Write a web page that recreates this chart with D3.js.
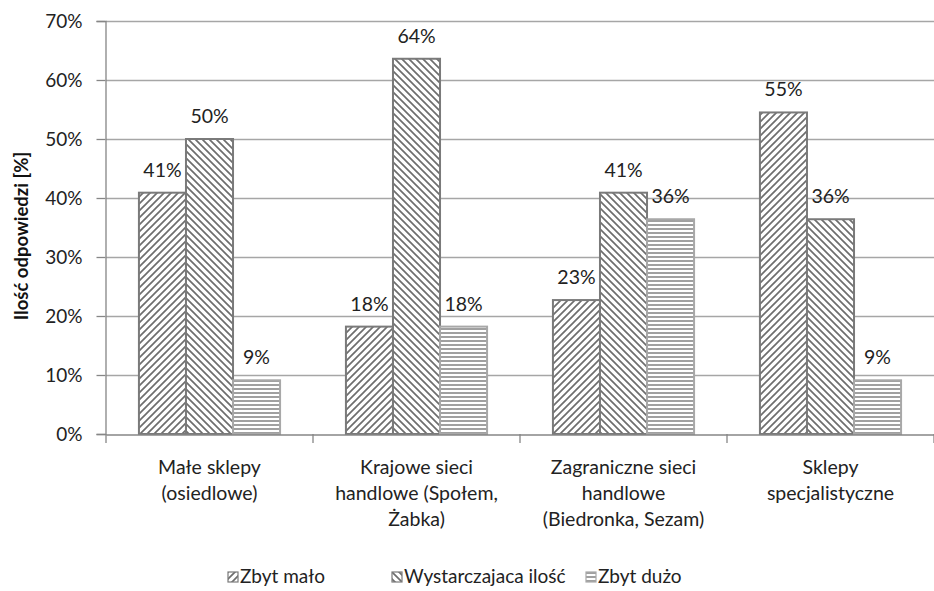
<!DOCTYPE html>
<html><head><meta charset="utf-8">
<script src="https://cdn.jsdelivr.net/npm/d3@7"></script>
<style>body{margin:0;background:#fff}svg{display:block}</style>
</head><body>
<script>
const categories = [
  ["Małe sklepy", "(osiedlowe)"],
  ["Krajowe sieci", "handlowe (Społem,", "Żabka)"],
  ["Zagraniczne sieci", "handlowe", "(Biedronka, Sezam)"],
  ["Sklepy", "specjalistyczne"]
];
const seriesNames = ["Zbyt mało", "Wystarczajaca ilość", "Zbyt dużo"];
const zbytMalo = [40.9, 18.2, 22.7, 54.5];
const wystarczajaca = [50.0, 63.6, 40.9, 36.4];
const zbytDuzo = [9.1, 18.2, 36.4, 9.1];
const yTicks = [0, 10, 20, 30, 40, 50, 60, 70];
const yTitle = "Ilość odpowiedzi [%]";

const series = [zbytMalo, wystarczajaca, zbytDuzo];
const W = 934, H = 591;
const font = "Lato, 'Open Sans', sans-serif";
const svg = d3.select("body").append("svg").attr("width", W).attr("height", H);

const defs = svg.append("defs");
function pat(id, size, draw) {
  const p = defs.append("pattern").attr("id", id).attr("patternUnits", "userSpaceOnUse")
    .attr("width", size).attr("height", size);
  p.append("rect").attr("width", size).attr("height", size).attr("fill", "#fff");
  draw(p);
}
pat("p0", 7, p => {
  p.append("path").attr("d", "M-1,1 l2,-2 M0,7 l7,-7 M6,8 l2,-2").attr("stroke", "#6e6e6e").attr("stroke-width", 1.7);
});
pat("p1", 7, p => {
  p.append("path").attr("d", "M-1,6 l2,2 M0,0 l7,7 M6,-1 l2,2").attr("stroke", "#6e6e6e").attr("stroke-width", 1.7);
});
pat("p2", 4, p => {
  p.append("rect").attr("x", 0).attr("y", 0).attr("width", 4).attr("height", 2).attr("fill", "#a0a0a0");
});

const x0 = 106, x1 = 934, yTop = 21, yBot = 434;
const x = d3.scaleBand().domain(d3.range(categories.length)).range([x0, x1]).paddingInner(0).paddingOuter(0);
const xs = d3.scaleBand().domain(d3.range(series.length)).range([0, x.bandwidth()]).paddingInner(0).paddingOuter(0.7);
const y = d3.scaleLinear().domain([0, 70]).range([yBot, yTop]);

// gridlines
svg.append("g").selectAll("line").data(yTicks.filter(t => t > 0)).join("line")
  .attr("x1", x0).attr("x2", x1).attr("y1", d => y(d) + 0.5).attr("y2", d => y(d) + 0.5)
  .attr("stroke", "#a6a6a6").attr("stroke-width", 1.3);

// y axis
const yAxis = svg.append("g").attr("transform", `translate(${x0 - 0.5},0)`)
  .call(d3.axisLeft(y).tickValues(yTicks).tickFormat(d => d + "%").tickSize(9).tickPadding(14));
yAxis.select(".domain").attr("stroke", "#868686").attr("stroke-width", 1.3);
yAxis.selectAll(".tick line").attr("stroke", "#868686").attr("stroke-width", 1.3);
yAxis.selectAll(".tick text").attr("font-family", font).attr("font-size", 19).attr("fill", "#222");

// bars
const stroke = ["#7a7a7a", "#7a7a7a", "#a8a8a8"];
series.forEach((vals, si) => {
  const g = svg.append("g");
  g.selectAll("rect").data(vals).join("rect")
    .attr("x", (d, i) => x(i) + xs(si))
    .attr("y", d => y(d))
    .attr("width", xs.bandwidth())
    .attr("height", d => y(0) - y(d))
    .attr("fill", `url(#p${si})`)
    .attr("stroke", stroke[si]).attr("stroke-width", 2);
  g.selectAll("text").data(vals).join("text")
    .attr("x", (d, i) => x(i) + xs(si) + xs.bandwidth() / 2)
    .attr("y", d => y(d) - 16)
    .attr("text-anchor", "middle")
    .attr("font-family", font).attr("font-size", 19.5).attr("fill", "#222")
    .text(d => Math.round(d) + "%");
});

// x axis
const xAxis = svg.append("g").attr("transform", `translate(0,${yBot + 0.5})`)
  .call(d3.axisBottom(x).tickSize(0).tickFormat(""));
xAxis.select(".domain").attr("stroke", "#868686").attr("stroke-width", 1.3);
svg.append("g").selectAll("line").data(d3.range(categories.length + 1)).join("line")
  .attr("x1", i => (i < categories.length ? x(i) : x1)).attr("x2", i => (i < categories.length ? x(i) : x1))
  .attr("y1", yBot).attr("y2", yBot + 9).attr("stroke", "#868686").attr("stroke-width", 1.3);

const catText = svg.append("g").selectAll("text").data(categories).join("text")
  .attr("text-anchor", "middle").attr("font-family", font).attr("font-size", 19.5).attr("fill", "#222");
catText.each(function(lines, i) {
  d3.select(this).selectAll("tspan").data(lines).join("tspan")
    .attr("x", x(i) + x.bandwidth() / 2)
    .attr("y", (d, j) => 474 + j * 26)
    .text(d => d);
});

// y title
svg.append("text").attr("transform", "translate(28,236) rotate(-90)")
  .attr("text-anchor", "middle").attr("font-family", font).attr("font-size", 18.5)
  .attr("font-weight", "bold").attr("fill", "#111").text(yTitle);

// legend
const legX = [228, 392, 586];
const leg = svg.append("g").selectAll("g").data(seriesNames).join("g")
  .attr("transform", (d, i) => `translate(${legX[i]},572)`);
leg.append("rect").attr("width", 10).attr("height", 10).attr("x", 0).attr("y", 0)
  .attr("fill", (d, i) => `url(#p${i})`).attr("stroke", (d, i) => stroke[i]).attr("stroke-width", 1.2);
leg.append("text").attr("x", 12).attr("y", 11).attr("font-family", font).attr("font-size", 19)
  .attr("fill", "#222").text(d => d);
</script>
</body></html>
